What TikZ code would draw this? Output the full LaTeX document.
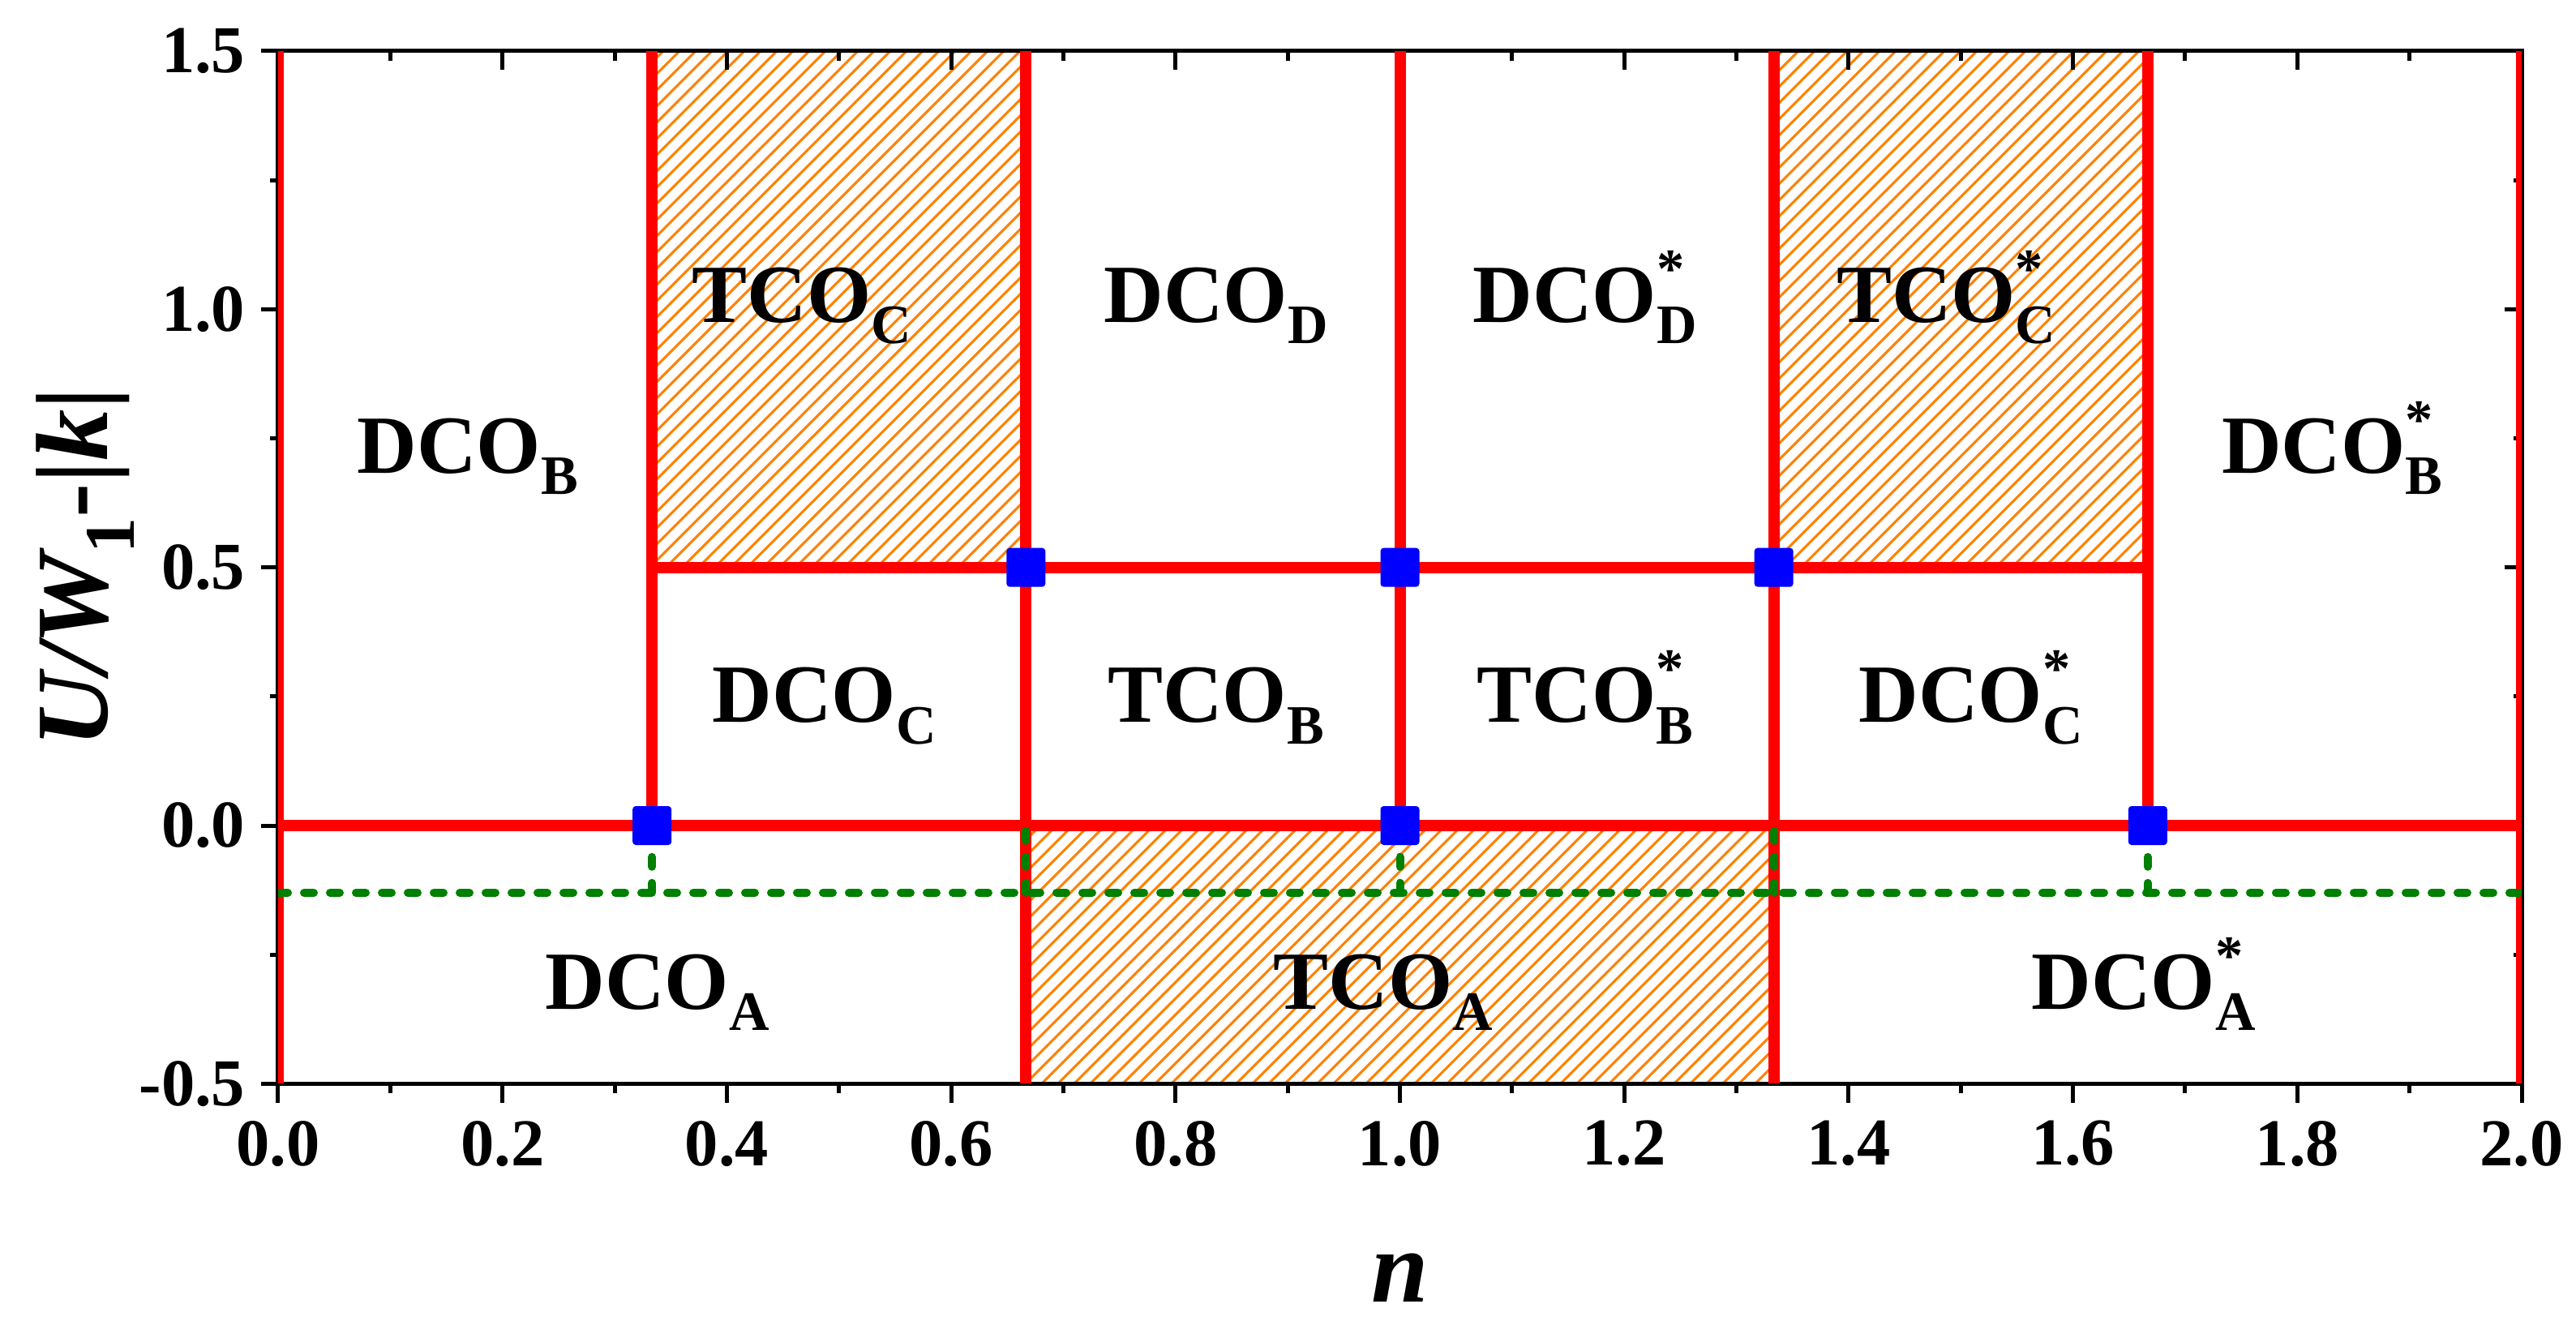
\documentclass[tikz,border=0pt]{standalone}
\usepackage{fontspec}
\setmainfont{Liberation Serif}
\usetikzlibrary{calc}
\definecolor{pred}{RGB}{255,0,0}
\definecolor{pblue}{RGB}{0,0,255}
\definecolor{pgreen}{RGB}{0,128,0}
\definecolor{porange}{RGB}{255,128,0}
\newcommand\subf{\fontsize{19.5}{20}\selectfont}
\newcommand\regl[2]{#1\raisebox{-0.26em}{\subf #2}}
\newcommand\regls[2]{#1\rlap{\raisebox{0.42em}{\subf *}}\raisebox{-0.26em}{\subf #2}}
\begin{document}
\begin{tikzpicture}[x=13.835cm,y=6.367cm,
  frame/.style={line width=0.05cm},
  tickmark/.style={line width=0.05cm},
  phaseline/.style={pred,line width=0.14cm},
  hatchline/.style={porange,line width=0.03cm},
  refline/.style={pgreen,line width=0.1cm,line cap=round,dash pattern=on 0.12cm off 0.2cm},
  crit/.style={fill=pblue,draw=none,minimum size=0.48cm,inner sep=0pt,rounded corners=0.04cm},
  region/.style={font=\fontsize{29}{30}\selectfont\bfseries,inner sep=0pt,anchor=base},
  ticklab/.style={font=\fontsize{23.5}{25}\selectfont\bfseries,inner sep=0pt},
  axtitle/.style={font=\fontsize{36}{40}\selectfont\bfseries,inner sep=0pt}]
\useasboundingbox (-3.43cm,-6.26cm) rectangle (28.34cm,10.18cm);

% hatched regions
\begin{scope}
  \clip (1/3,0.5) rectangle (2/3,1.5) (4/3,0.5) rectangle (5/3,1.5) (2/3,-0.5) rectangle (4/3,0);
  \foreach \k in {-115,...,150} \draw[hatchline] (\k*0.2cm,-7cm) -- ++(18cm,18cm);
\end{scope}

% frame
\draw[frame] (0,-0.5) rectangle (2,1.5);
% x ticks
\foreach \i in {0,...,10} {
  \draw[tickmark] (\i/5,-0.5) -- ++(0pt,-0.24cm);
  \draw[tickmark] (\i/5,1.5) -- ++(0pt,-0.23cm);
}
\foreach \i in {0,...,9} {
  \draw[tickmark] (\i/5+0.1,-0.5) -- ++(0pt,-0.12cm);
  \draw[tickmark] (\i/5+0.1,1.5) -- ++(0pt,-0.12cm);
}
% y ticks
\foreach \v in {-0.5,0,0.5,1,1.5} {
  \draw[tickmark] (0,\v) -- ++(-0.21cm,0pt);
  \draw[tickmark] (2,\v) -- ++(-0.21cm,0pt);
}
\foreach \v in {-0.25,0.25,0.75,1.25} {
  \draw[tickmark] (0,\v) -- ++(-0.10cm,0pt);
  \draw[tickmark] (2,\v) -- ++(-0.10cm,0pt);
}
% tick labels
\foreach \x/\t in {0/0.0,0.2/0.2,0.4/0.4,0.6/0.6,0.8/0.8,1/1.0,1.2/1.2,1.4/1.4,1.6/1.6,1.8/1.8,2/2.0}
  \node[ticklab,anchor=north,yshift=-0.45cm] (xl\t) at (\x,-0.5) {\t};
\foreach \v/\t in {-0.5/-0.5,0/0.0,0.5/0.5,1/1.0,1.5/1.5}
  \node[ticklab,anchor=east,xshift=-0.40cm] (yl\t) at (0,\v) {\t};

% axis titles
\node[axtitle,anchor=base,yshift=-5.87cm] (xtitle) at (1,0) {\itshape n};
\node[axtitle,anchor=base,rotate=90] (ytitle) at ($(0,0.5)+(-2.10cm,0pt)$)
  {{\itshape U/W}\raisebox{-0.26em}{\fontsize{25}{26}\selectfont 1}-|{\itshape k}|};

% key points
\coordinate (gL) at (0,-0.13);
\coordinate (gR) at (2,-0.13);
\coordinate (a1) at (1/3,0);
\coordinate (a2) at (2/3,0);
\coordinate (a3) at (1,0);
\coordinate (a4) at (4/3,0);
\coordinate (a5) at (5/3,0);
\coordinate (b2) at (2/3,0.5);
\coordinate (b3) at (1,0.5);
\coordinate (b4) at (4/3,0.5);

% phase boundaries
\begin{scope}
  \clip (0,-0.5) rectangle (2,1.5);
  \draw[phaseline] (0,-0.5) -- (0,1.5);
  \draw[phaseline] (2,-0.5) -- (2,1.5);
  \draw[phaseline] (0,0) -- (2,0);
  \draw[phaseline] (a1) -- (1/3,1.5);
  \draw[phaseline] (1/3,0.5) -- (5/3,0.5);
  \draw[phaseline] (2/3,-0.5) -- (2/3,1.5);
  \draw[phaseline] (a3) -- (1,1.5);
  \draw[phaseline] (4/3,-0.5) -- (4/3,1.5);
  \draw[phaseline] (a5) -- (5/3,1.5);
  \draw[refline] (gL) -- (gR);
  \foreach \p in {a1,a2,a3,a4,a5}
    \draw[refline] (\p |- gL) -- (\p);
\end{scope}

% critical points
\foreach \p in {a1,a3,a5,b2,b3,b4}
  \node[crit] (s\p) at (\p) {};

% region labels
\node[region] (tcoC) at (0.467,0.975) {\regl{TCO}{C}};
\node[region] (dcoD) at (0.836,0.975) {\regl{DCO}{D}};
\node[region] (dcoDs) at (1.165,0.975) {\regls{DCO}{D}};
\node[region] (tcoCs) at (1.487,0.975) {\regls{TCO}{C}};
\node[region] (dcoB) at (0.169,0.683) {\regl{DCO}{B}};
\node[region] (dcoBs) at (1.831,0.683) {\regls{DCO}{B}};
\node[region] (dcoC) at (0.487,0.2) {\regl{DCO}{C}};
\node[region] (tcoB) at (0.836,0.2) {\regl{TCO}{B}};
\node[region] (tcoBs) at (1.165,0.2) {\regls{TCO}{B}};
\node[region] (dcoCs) at (1.509,0.2) {\regls{DCO}{C}};
\node[region] (dcoA) at (0.338,-0.355) {\regl{DCO}{A}};
\node[region] (tcoA) at (0.985,-0.355) {\regl{TCO}{A}};
\node[region] (dcoAs) at (1.663,-0.355) {\regls{DCO}{A}};
\end{tikzpicture}
\end{document}
